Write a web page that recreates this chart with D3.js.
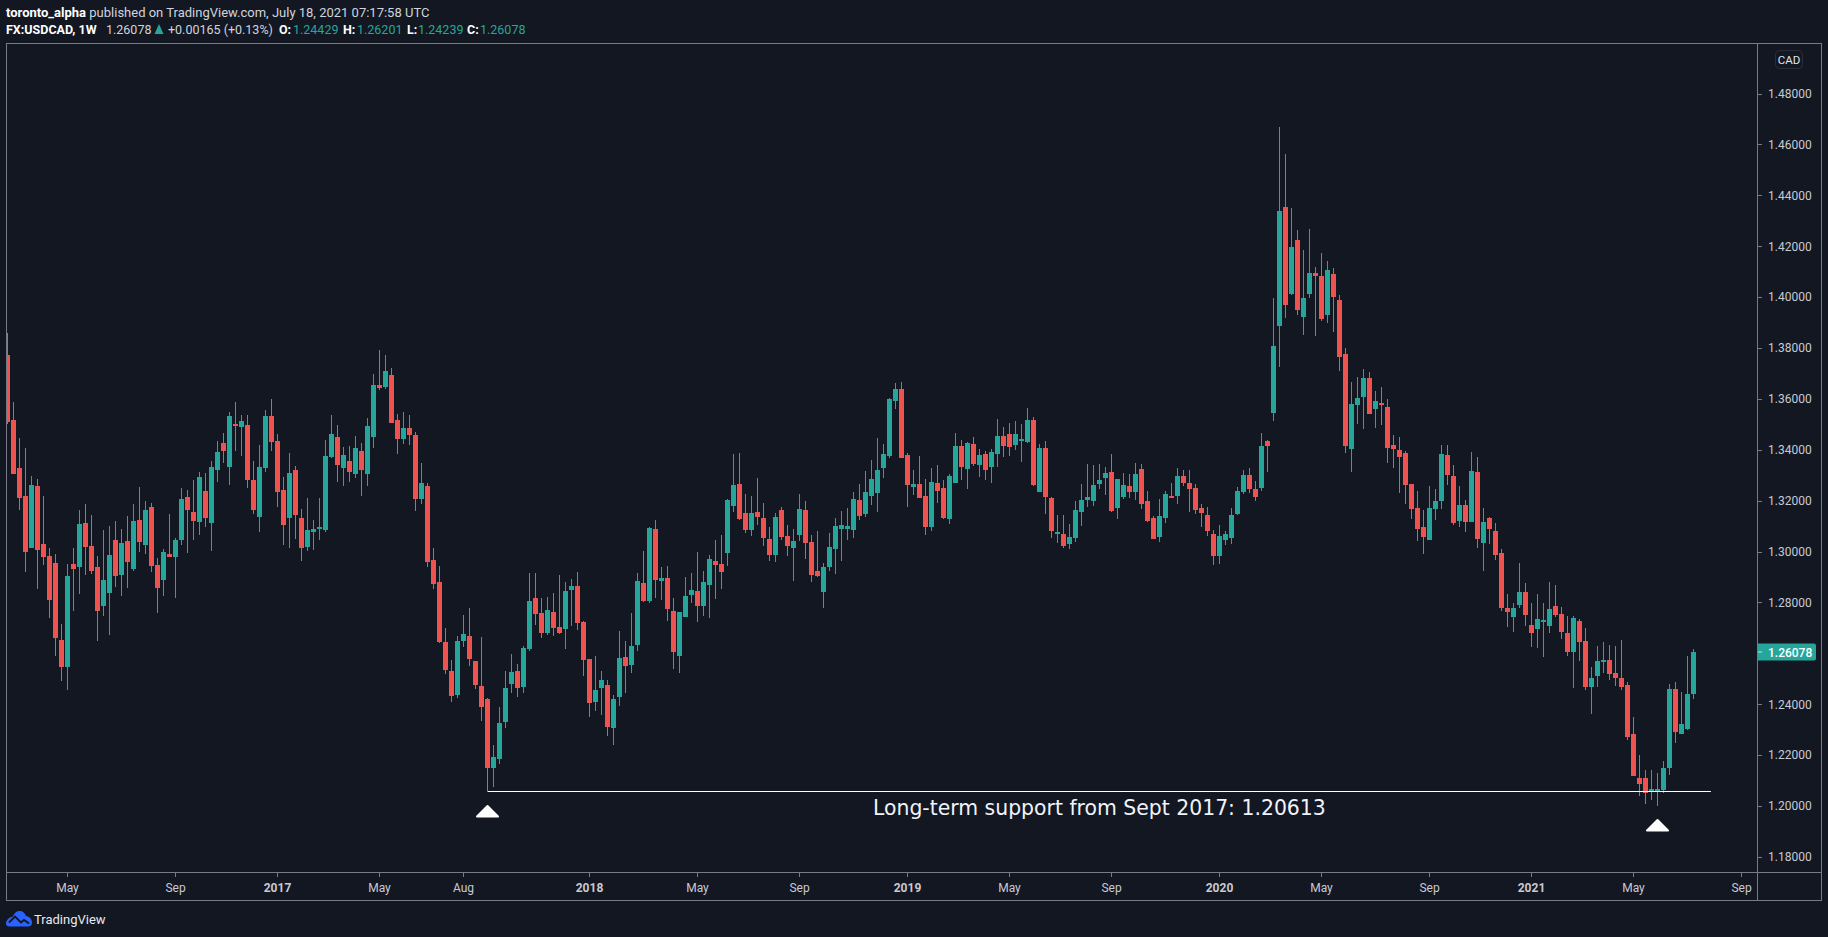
<!DOCTYPE html>
<html>
<head>
    <meta charset="utf-8" />
    <title>USDCAD weekly</title>
    <style>
        html, body { margin: 0; background: #131722; overflow: hidden; }
        text { font-family: Roboto, "Noto Sans", sans-serif; }
        .tick text { fill: #c8cad2; font-size: 12px; }
        .tick line { stroke: #787b86; shape-rendering: crispEdges; }
        .bold { font-weight: 700; }
    </style>
    <script src="https://cdnjs.cloudflare.com/ajax/libs/d3/7.8.5/d3.min.js"></script>
</head>
<body>
<script>
// weekly candles, oldest first
var opens = [
1.3774,1.3519,1.3330,1.3220,1.3016,1.3260,1.3032,1.2985,1.2957,1.2654,
1.2548,1.2953,1.2941,1.3114,1.3024,1.2941,1.2788,1.2839,1.3047,1.2910,
1.3043,1.2933,1.3126,1.3028,1.3177,1.2949,1.2890,1.2992,1.2981,1.3047,
1.3216,1.3157,1.3118,1.3240,1.3114,1.3322,1.3429,1.3334,1.3503,1.3491,
1.3499,1.3283,1.3138,1.3330,1.3535,1.3436,1.3244,1.3134,1.3322,1.3134,
1.3020,1.3079,1.3091,1.3087,1.3374,1.3452,1.3330,1.3358,1.3307,1.3397,
1.3307,1.3452,1.3657,1.3649,1.3696,1.3519,1.3444,1.3488,1.3460,1.3209,
1.3260,1.2969,1.2882,1.2647,1.2533,1.2438,1.2650,1.2670,1.2572,1.2474,
1.2422,1.2151,1.2187,1.2332,1.2481,1.2533,1.2470,1.2619,1.2819,1.2760,
1.2682,1.2764,1.2706,1.2698,1.2851,1.2867,1.2725,1.2580,1.2411,1.2466,
1.2478,1.2309,1.2430,1.2588,1.2556,1.2635,1.2878,1.2808,1.3091,1.2886,
1.2898,1.2768,1.2592,1.2745,1.2831,1.2847,1.2788,1.2871,1.2965,1.2953,
1.2996,1.3181,1.3267,1.3154,1.3087,1.3157,1.3134,1.3051,1.2988,1.3165,
1.3063,1.3016,1.3067,1.3165,1.3040,1.2926,1.2843,1.2941,1.3012,1.3091,
1.3091,1.3087,1.3205,1.3150,1.3220,1.3232,1.3330,1.3377,1.3593,1.3640,
1.3381,1.3255,1.3267,1.3220,1.3098,1.3271,1.3251,1.3129,1.3271,1.3416,
1.3326,1.3424,1.3342,1.3385,1.3334,1.3385,1.3456,1.3463,1.3420,1.3436,
1.3432,1.3518,1.3236,1.3408,1.3212,1.3074,1.3070,1.3031,1.3055,1.3157,
1.3204,1.3200,1.3267,1.3291,1.3314,1.3173,1.3216,1.3259,1.3236,1.3326,
1.3200,1.3133,1.3059,1.3133,1.3219,1.3220,1.3298,1.3271,1.3251,1.3173,
1.3145,1.3070,1.2984,1.3047,1.3055,1.3149,1.3236,1.3302,1.3247,1.3251,
1.3436,1.3545,1.3887,1.4355,1.4013,1.4225,1.3922,1.4013,1.4095,1.4084,
1.3930,1.4091,1.3989,1.3777,1.3404,1.3577,1.3608,1.3683,1.3561,1.3585,
1.3569,1.3420,1.3400,1.3388,1.3267,1.3173,1.3098,1.3047,1.3169,1.3200,
1.3381,1.3298,1.3121,1.3184,1.3117,1.3314,1.3035,1.3133,1.3082,1.2996,
1.2779,1.2744,1.2791,1.2842,1.2713,1.2697,1.2724,1.2709,1.2787,1.2756,
1.2681,1.2607,1.2728,1.2650,1.2469,1.2512,1.2567,1.2575,1.2524,1.2504,
1.2477,1.2284,1.2111,1.2111,1.2064,1.2060,1.2064,1.2151,1.2461,1.2284,
1.2304,1.24429];
var closes = [
1.3512,1.3307,1.3212,1.3000,1.3264,1.3008,1.2981,1.2812,1.2662,1.2548,
1.2906,1.2933,1.3110,1.3020,1.2926,1.2768,1.2890,1.2988,1.2906,1.3036,
1.2961,1.3122,1.3040,1.3165,1.2945,1.2859,1.3000,1.2981,1.3047,1.3209,
1.3165,1.3122,1.3295,1.3134,1.3334,1.3393,1.3397,1.3535,1.3495,1.3515,
1.3283,1.3165,1.3334,1.3535,1.3433,1.3236,1.3106,1.3311,1.3146,1.3016,
1.3087,1.3091,1.3098,1.3378,1.3464,1.3342,1.3381,1.3315,1.3409,1.3322,
1.3495,1.3657,1.3645,1.3712,1.3507,1.3444,1.3488,1.3460,1.3209,1.3271,
1.2961,1.2874,1.2647,1.2537,1.2434,1.2650,1.2678,1.2580,1.2478,1.2391,
1.2151,1.2195,1.2328,1.2466,1.2529,1.2466,1.2623,1.2808,1.2757,1.2682,
1.2772,1.2702,1.2682,1.2847,1.2867,1.2721,1.2576,1.2407,1.2458,1.2497,
1.2312,1.2422,1.2584,1.2552,1.2631,1.2886,1.2808,1.3095,1.2890,1.2898,
1.2776,1.2607,1.2764,1.2827,1.2851,1.2788,1.2882,1.2973,1.2949,1.2922,
1.3205,1.3264,1.3130,1.3087,1.3154,1.3138,1.3055,1.2988,1.3138,1.3059,
1.3024,1.3043,1.3169,1.3036,1.2910,1.2906,1.2941,1.3020,1.3102,1.3106,
1.3102,1.3209,1.3142,1.3236,1.3287,1.3322,1.3385,1.3601,1.3640,1.3369,
1.3263,1.3267,1.3212,1.3098,1.3275,1.3239,1.3133,1.3298,1.3416,1.3334,
1.3428,1.3346,1.3381,1.3322,1.3393,1.3456,1.3416,1.3412,1.3463,1.3444,
1.3518,1.3263,1.3408,1.3216,1.3082,1.3078,1.3023,1.3059,1.3165,1.3204,
1.3216,1.3263,1.3283,1.3310,1.3161,1.3287,1.3263,1.3236,1.3306,1.3188,
1.3122,1.3051,1.3141,1.3228,1.3215,1.3298,1.3271,1.3247,1.3165,1.3153,
1.3082,1.2984,1.3063,1.3070,1.3145,1.3239,1.3302,1.3247,1.3216,1.3416,
1.3416,1.3809,1.4339,1.3970,1.4198,1.3950,1.3997,1.4095,1.4084,1.3915,
1.4107,1.4001,1.3765,1.3416,1.3581,1.3604,1.3683,1.3541,1.3592,1.3577,
1.3408,1.3404,1.3372,1.3262,1.3169,1.3090,1.3058,1.3172,1.3200,1.3385,
1.3302,1.3114,1.3184,1.3117,1.3318,1.3051,1.3117,1.3090,1.2988,1.2779,
1.2764,1.2779,1.2842,1.2752,1.2681,1.2736,1.2732,1.2776,1.2752,1.2685,
1.2607,1.2740,1.2646,1.2469,1.2504,1.2571,1.2575,1.2520,1.2504,1.2469,
1.2272,1.2119,1.2088,1.2052,1.2068,1.2068,1.2151,1.2461,1.2292,1.2324,
1.2442,1.26078];
var highs = [
1.3860,1.3590,1.3448,1.3409,1.3299,1.3287,1.3220,1.3016,1.2992,1.2717,
1.2953,1.3016,1.3165,1.3189,1.3146,1.2985,1.3087,1.3102,1.3122,1.3091,
1.3142,1.3189,1.3256,1.3201,1.3193,1.2977,1.3012,1.3150,1.3055,1.3252,
1.3244,1.3283,1.3315,1.3311,1.3358,1.3436,1.3468,1.3550,1.3590,1.3539,
1.3539,1.3358,1.3421,1.3558,1.3602,1.3464,1.3295,1.3389,1.3338,1.3169,
1.3212,1.3126,1.3212,1.3440,1.3539,1.3499,1.3413,1.3417,1.3456,1.3429,
1.3527,1.3700,1.3794,1.3774,1.3723,1.3543,1.3550,1.3539,1.3472,1.3350,
1.3271,1.3016,1.2945,1.2702,1.2576,1.2670,1.2753,1.2780,1.2572,1.2666,
1.2426,1.2242,1.2391,1.2533,1.2599,1.2560,1.2631,1.2918,1.2918,1.2819,
1.2823,1.2839,1.2910,1.2882,1.2894,1.2922,1.2729,1.2580,1.2592,1.2533,
1.2497,1.2438,1.2690,1.2650,1.2761,1.2918,1.3004,1.3098,1.3126,1.2941,
1.2945,1.2819,1.2764,1.2902,1.2918,1.3000,1.2926,1.2988,1.3047,1.3067,
1.3209,1.3385,1.3389,1.3228,1.3220,1.3291,1.3193,1.3098,1.3154,1.3177,
1.3106,1.3091,1.3228,1.3201,1.3067,1.3083,1.2957,1.3075,1.3134,1.3161,
1.3173,1.3236,1.3267,1.3319,1.3362,1.3448,1.3425,1.3605,1.3664,1.3668,
1.3389,1.3322,1.3377,1.3287,1.3330,1.3342,1.3283,1.3306,1.3467,1.3440,
1.3432,1.3452,1.3405,1.3397,1.3405,1.3522,1.3491,1.3507,1.3515,1.3503,
1.3566,1.3530,1.3424,1.3436,1.3216,1.3145,1.3145,1.3110,1.3200,1.3267,
1.3346,1.3342,1.3346,1.3334,1.3385,1.3287,1.3310,1.3306,1.3350,1.3346,
1.3239,1.3141,1.3208,1.3239,1.3271,1.3330,1.3322,1.3322,1.3267,1.3188,
1.3177,1.3086,1.3106,1.3082,1.3173,1.3255,1.3322,1.3330,1.3279,1.3467,
1.3440,1.3997,1.4669,1.4563,1.4351,1.4264,1.4186,1.4268,1.4119,1.4174,
1.4143,1.4115,1.4009,1.3801,1.3667,1.3687,1.3718,1.3706,1.3632,1.3647,
1.3600,1.3459,1.3451,1.3396,1.3267,1.3240,1.3165,1.3259,1.3247,1.3420,
1.3420,1.3341,1.3259,1.3204,1.3393,1.3373,1.3172,1.3137,1.3114,1.3011,
1.2834,1.2799,1.2956,1.2878,1.2799,1.2834,1.2799,1.2882,1.2870,1.2783,
1.2748,1.2748,1.2736,1.2701,1.2548,1.2630,1.2646,1.2634,1.2630,1.2654,
1.2489,1.2351,1.2202,1.2143,1.2143,1.2131,1.2178,1.2481,1.2489,1.2449,
1.2591,1.26201];
var lows = [
1.3503,1.3307,1.3165,1.2922,1.3016,1.2855,1.2949,1.2741,1.2592,1.2493,
1.2458,1.2768,1.2835,1.2910,1.2914,1.2650,1.2749,1.2674,1.2863,1.2827,
1.2859,1.2926,1.3000,1.2992,1.2922,1.2760,1.2827,1.2981,1.2819,1.3028,
1.2996,1.3047,1.3067,1.3098,1.3004,1.3275,1.3350,1.3264,1.3397,1.3378,
1.3252,1.3150,1.3079,1.3315,1.3397,1.3177,1.3028,1.3016,1.3051,1.2965,
1.3004,1.3008,1.3047,1.3079,1.3370,1.3275,1.3260,1.3275,1.3291,1.3220,
1.3260,1.3409,1.3637,1.3641,1.3507,1.3385,1.3425,1.3421,1.3161,1.3189,
1.2941,1.2855,1.2643,1.2521,1.2411,1.2426,1.2627,1.2552,1.2462,1.2336,
1.2061,1.2077,1.2167,1.2309,1.2446,1.2430,1.2446,1.2611,1.2713,1.2662,
1.2674,1.2670,1.2678,1.2619,1.2709,1.2694,1.2513,1.2352,1.2375,1.2360,
1.2277,1.2242,1.2395,1.2446,1.2525,1.2611,1.2804,1.2800,1.2819,1.2812,
1.2729,1.2540,1.2525,1.2745,1.2800,1.2725,1.2749,1.2741,1.2816,1.2855,
1.2945,1.3157,1.3126,1.3075,1.3063,1.3106,1.3024,1.2965,1.2961,1.3047,
1.2985,1.2886,1.3043,1.2973,1.2882,1.2902,1.2780,1.2926,1.2914,1.2965,
1.3047,1.3055,1.3126,1.3138,1.3185,1.3157,1.3291,1.3369,1.3562,1.3369,
1.3177,1.3224,1.3212,1.3067,1.3082,1.3192,1.3129,1.3110,1.3271,1.3283,
1.3247,1.3338,1.3295,1.3283,1.3271,1.3334,1.3373,1.3377,1.3401,1.3353,
1.3428,1.3259,1.3236,1.3149,1.3055,1.3035,1.3015,1.3012,1.3039,1.3102,
1.3177,1.3180,1.3247,1.3224,1.3157,1.3129,1.3208,1.3212,1.3204,1.3169,
1.3118,1.3051,1.3039,1.3114,1.3215,1.3188,1.3259,1.3157,1.3149,1.3098,
1.3063,1.2949,1.2953,1.3027,1.3031,1.3145,1.3228,1.3232,1.3200,1.3239,
1.3314,1.3514,1.3726,1.3919,1.4009,1.3930,1.3852,1.3997,1.3848,1.3907,
1.3899,1.3864,1.3710,1.3388,1.3313,1.3502,1.3482,1.3541,1.3486,1.3498,
1.3349,1.3329,1.3231,1.3188,1.3130,1.3043,1.2992,1.3047,1.3125,1.3169,
1.3263,1.3106,1.3098,1.3078,1.3117,1.3015,1.2925,1.3031,1.2968,1.2768,
1.2705,1.2685,1.2779,1.2709,1.2626,1.2622,1.2587,1.2681,1.2744,1.2658,
1.2591,1.2465,1.2571,1.2457,1.2363,1.2469,1.2524,1.2497,1.2473,1.2457,
1.2261,1.2119,1.2041,1.2009,1.2025,1.2001,1.2052,1.2123,1.2249,1.2284,
1.2300,1.24239];

var priceTicks = [1.48,1.46,1.44,1.42,1.40,1.38,1.36,1.34,1.32,1.30,1.28,1.26,1.24,1.22,1.20,1.18];
var timeLabels = ["May","Sep","2017","May","Aug","2018","May","Sep","2019","May","Sep","2020","May","Sep","2021","May","Sep"];
var timeBars = [10,28,45,62,76,97,115,132,150,167,184,202,219,237,254,271,289];
var lastPrice = 1.26078;
var supportPrice = 1.20613;
var arrowBars = [80,275];
var arrowPrices = [1.2006,1.1951];

var width = 1828, height = 937;
var left = 6, top_ = 43, axisX = 1757, axisY = 872, right = 1821, bottom = 900;
var up = "#26a69a", down = "#ef5350", frameColor = "#787b86";

var candles = opens.map(function(o, i) {
    return {i: i, o: o, c: closes[i], h: highs[i], l: lows[i]};
});

var x = d3.scaleLinear().domain([0, 281]).range([7.5, 1693.5]);
var y = d3.scaleLinear().domain([1.20, 1.48]).range([806.5, 94]);

var svg = d3.select("body").append("svg")
    .attr("width", width)
    .attr("height", height)
    .style("display", "block");

svg.append("clipPath").attr("id", "pane").append("rect")
    .attr("x", left + 1).attr("y", top_)
    .attr("width", axisX - left - 1).attr("height", axisY - top_);

// frame
svg.append("rect")
    .attr("x", left + 0.5).attr("y", top_ + 0.5)
    .attr("width", right - left).attr("height", bottom - top_)
    .attr("fill", "none").attr("stroke", frameColor);
svg.append("line").attr("x1", axisX + 0.5).attr("x2", axisX + 0.5)
    .attr("y1", top_).attr("y2", bottom).attr("stroke", frameColor);
svg.append("line").attr("x1", left).attr("x2", right)
    .attr("y1", axisY + 0.5).attr("y2", axisY + 0.5).attr("stroke", frameColor);

// candles
var pane = svg.append("g").attr("clip-path", "url(#pane)").attr("shape-rendering", "crispEdges");
var color = function(d) { return d.c >= d.o ? up : down; };

pane.selectAll(".wick").data(candles).enter().append("rect")
    .attr("class", "wick")
    .attr("x", function(d) { return x(d.i) - 0.5; })
    .attr("width", 1)
    .attr("y", function(d) { return Math.round(y(d.h)); })
    .attr("height", function(d) { return Math.max(1, Math.round(y(d.l)) - Math.round(y(d.h))); })
    .attr("fill", color);

pane.selectAll(".body").data(candles).enter().append("rect")
    .attr("class", "body")
    .attr("x", function(d) { return x(d.i) - 2.5; })
    .attr("width", 5)
    .attr("y", function(d) { return Math.round(y(Math.max(d.o, d.c))); })
    .attr("height", function(d) { return Math.max(2, Math.round(y(Math.min(d.o, d.c))) - Math.round(y(Math.max(d.o, d.c)))); })
    .attr("fill", color);

// axes
var yAxis = d3.axisRight(y).tickValues(priceTicks).tickSize(4).tickPadding(6).offset(0)
    .tickFormat(function(d) { return d.toFixed(5); });
var yG = svg.append("g").attr("transform", "translate(" + (axisX + 1) + ",0)").call(yAxis);
yG.select(".domain").remove();

var xAxis = d3.axisBottom(x).tickValues(timeBars).tickSize(4).tickPadding(6).offset(0)
    .tickFormat(function(d, i) { return timeLabels[i]; });
var xG = svg.append("g").attr("transform", "translate(0," + (axisY + 1) + ")").call(xAxis);
xG.select(".domain").remove();
xG.selectAll("text").attr("class", function(d, i) { return /^\d/.test(timeLabels[i]) ? "bold" : null; });

// last price label
var lastG = svg.append("g").attr("transform", "translate(" + axisX + "," + Math.round(y(lastPrice)) + ")");
lastG.append("path").attr("d", "M1,-8.5H57a2,2 0 0 1 2,2V6.5a2,2 0 0 1 -2,2H1Z").attr("fill", up);
lastG.append("line").attr("x1", 1).attr("x2", 5).attr("stroke", "#fff").attr("stroke-opacity", 0.7);
lastG.append("text").attr("x", 11).attr("y", 4.5)
    .attr("fill", "#fff").attr("font-size", 12).attr("font-weight", 500).text(lastPrice.toFixed(5));

// currency badge
svg.append("rect").attr("x", 1775.5).attr("y", 50.5).attr("width", 27).attr("height", 18).attr("rx", 4)
    .attr("fill", "none").attr("stroke", "#2a2e39");
svg.append("text").attr("x", 1789).attr("y", 63.5).attr("text-anchor", "middle")
    .attr("fill", "#e0e3eb").attr("font-size", 11.5).text("CAD");

// support line, arrows, note
svg.append("line")
    .attr("x1", x(80)).attr("x2", x(283.9))
    .attr("y1", Math.round(y(supportPrice)) + 0.5).attr("y2", Math.round(y(supportPrice)) + 0.5)
    .attr("stroke", "#fff").attr("stroke-width", 1);

svg.selectAll(".arrow").data(arrowBars).enter().append("path")
    .attr("class", "arrow")
    .attr("transform", function(d, i) { return "translate(" + x(d) + "," + y(arrowPrices[i]) + ")"; })
    .attr("d", "M0,1L10.5,11.5H-10.5Z")
    .attr("fill", "#fff").attr("stroke", "#fff").attr("stroke-width", 2).attr("stroke-linejoin", "round");

svg.append("text").attr("x", 873).attr("y", 815)
    .style("font-family", "'DejaVu Sans'").attr("font-size", 20.4).attr("fill", "#f0f3fa")
    .text("Long-term support from Sept 2017: 1.20613");

// header
var head1 = svg.append("text").attr("x", 6).attr("y", 17).attr("font-size", 13).attr("fill", "#d1d4dc");
head1.append("tspan").attr("class", "bold").attr("fill", "#fff").text("toronto_alpha");
head1.append("tspan").text(" published on TradingView.com, July 18, 2021 07:17:58 UTC");

var row2 = [
    {x: 6, t: "FX:USDCAD, 1W", bold: true, fill: "#fff"},
    {x: 106, t: "1.26078", fill: "#d1d4dc"},
    {x: 168, t: "+0.00165 (+0.13%)", fill: "#d1d4dc"},
    {x: 279, t: "O:", bold: true, fill: "#fff"},
    {x: 293, t: "1.24429", fill: up},
    {x: 343, t: "H:", bold: true, fill: "#fff"},
    {x: 357, t: "1.26201", fill: up},
    {x: 407, t: "L:", bold: true, fill: "#fff"},
    {x: 418, t: "1.24239", fill: up},
    {x: 467, t: "C:", bold: true, fill: "#fff"},
    {x: 480, t: "1.26078", fill: up}
];
svg.selectAll(".row2").data(row2).enter().append("text")
    .attr("class", function(d) { return d.bold ? "row2 bold" : "row2"; })
    .attr("x", function(d) { return d.x; })
    .attr("y", 34)
    .attr("font-size", 12.5)
    .attr("fill", function(d) { return d.fill; })
    .text(function(d) { return d.t; });
svg.append("path").attr("d", "M154.5,34L159,24L163.5,34Z").attr("fill", up);

// logo
var logo = svg.append("g").attr("transform", "translate(6,911)");
logo.append("path")
    .attr("d", "M0,12C1,7 5,6 7,5.5C8.5,1.5 11,0 13.5,0C17,0 19,2 20,5C24,5.5 26,9 26,11.5C26,14.5 24,15.5 22,15.5H4C1.5,15.5 -0.5,14 0,12Z")
    .attr("fill", "#2962ff");
logo.append("path")
    .attr("d", "M3,11.5L9,5.5L15,11.5L18,9L23,12.5")
    .attr("fill", "none").attr("stroke", "#131722").attr("stroke-width", 1.8);
svg.append("text").attr("x", 34).attr("y", 924).attr("font-size", 13).attr("fill", "#e8eaf0").text("TradingView");
</script>
</body>
</html>
